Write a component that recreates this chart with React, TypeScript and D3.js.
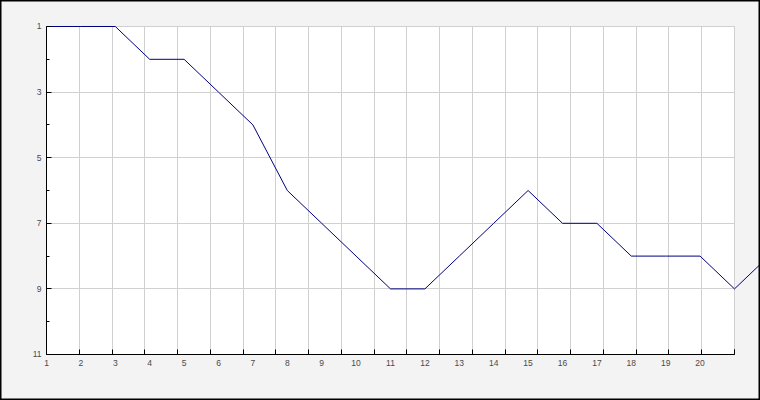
import React from "react";
import * as d3 from "d3";

const xValues = [1, 2, 3, 4, 5, 6, 7, 8, 9, 10, 11, 12, 13, 14, 15, 16, 17, 18, 19, 20, 21, 22];
const yValues = [1, 1, 1, 2, 2, 3, 4, 6, 7, 8, 9, 9, 8, 7, 6, 7, 7, 8, 8, 8, 9, 8];
const xTickLabels = [1, 2, 3, 4, 5, 6, 7, 8, 9, 10, 11, 12, 13, 14, 15, 16, 17, 18, 19, 20];
const yTickLabels = [1, 3, 5, 7, 9, 11];
const yMinorTicks = [2, 4, 6, 8, 10];
const gridSlots = d3.range(0, 22);

export default function App() {
  const W = 760, H = 400;
  const left = 46.5, right = 734.5, top = 26.5, bottom = 354.5;
  const x = d3.scaleLinear().domain([1, 21]).range([left, right]);
  const xg = d3.scaleLinear().domain([0, 21]).range([left, right]);
  const y = d3.scaleLinear().domain([1, 11]).range([top, bottom]);
  const pts: [number, number][] = xValues.map((v, i) => [v, yValues[i]]);
  const line = d3.line<[number, number]>().x(d => x(d[0])).y(d => y(d[1]));
  const snap = (v: number) => Math.round(v - 0.5) + 0.5;
  const font = "'Liberation Sans', Arial, sans-serif";
  return (
    <svg width={W} height={H} style={{ position: "absolute", left: 0, top: 0 }}>
      <rect x={0} y={0} width={W} height={H} fill="#f3f3f3" />
      <rect x={left} y={top} width={right - left} height={bottom - top} fill="#ffffff" stroke="#d0d0d0" />
      {gridSlots.map(g => (
        <line key={"vg" + g} x1={snap(xg(g))} x2={snap(xg(g))} y1={top} y2={bottom} stroke="#d0d0d0" />
      ))}
      {yTickLabels.filter(v => v < 11).map(v => (
        <line key={"hg" + v} x1={left} x2={right} y1={snap(y(v))} y2={snap(y(v))} stroke="#d0d0d0" />
      ))}
      <path d={line(pts) || ""} fill="none" stroke="#000080" strokeWidth={1} />
      <line x1={left} x2={left} y1={top} y2={bottom} stroke="#000" />
      <line x1={left} x2={right} y1={bottom} y2={bottom} stroke="#000" />
      {gridSlots.concat([21]).map(g => (
        <line key={"xt" + g} x1={snap(xg(g))} x2={snap(xg(g))} y1={bottom} y2={bottom - 5} stroke="#000" />
      ))}
      {yTickLabels.map(v => (
        <line key={"yt" + v} x1={left} x2={left + 5} y1={snap(y(v))} y2={snap(y(v))} stroke="#000" />
      ))}
      {yMinorTicks.map(v => (
        <line key={"ym" + v} x1={left} x2={left + 3} y1={snap(y(v))} y2={snap(y(v))} stroke="#000" />
      ))}
      {yTickLabels.map(v => (
        <text key={"yl" + v} x={41.5} y={y(v)} dy="0.35em" textAnchor="end" fontFamily={font} fontSize={8.5} fill="#4a4a4a">
          {v}
        </text>
      ))}
      {xTickLabels.map(v => (
        <text key={"xl" + v} x={x(v)} y={365.5} textAnchor="middle" fontFamily={font} fontSize={8.5} fill="#4a4a4a">
          {v}
        </text>
      ))}
      <rect x={0.75} y={0.75} width={W - 1.5} height={H - 1.5} fill="none" stroke="#000" strokeWidth={1.5} />
    </svg>
  );
}
